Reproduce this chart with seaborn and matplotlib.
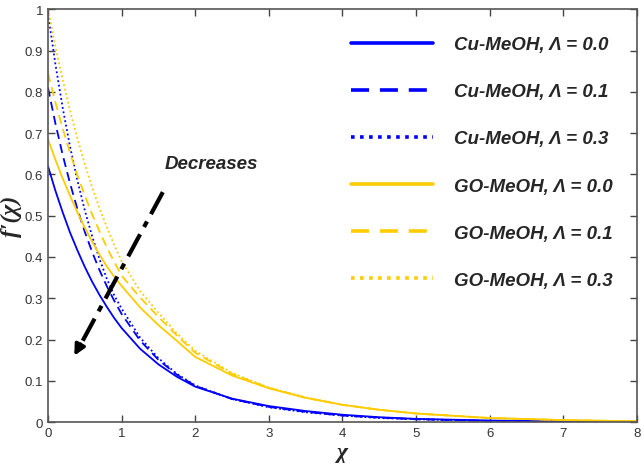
import matplotlib
matplotlib.use("Agg")
import matplotlib.pyplot as plt
import numpy as np
import pandas as pd
import seaborn as sns

# values
chi = [0, 0.1, 0.2, 0.3, 0.4, 0.5, 0.6, 0.7, 0.8, 0.9, 1.0,
       1.25, 1.5, 1.75, 2, 2.5, 3, 3.5, 4, 4.5, 5, 6, 7, 8]

cu_00 = [0.62, 0.561, 0.508, 0.459, 0.416, 0.376, 0.340, 0.308, 0.279, 0.252, 0.228,
         0.178, 0.140, 0.110, 0.086, 0.057, 0.039, 0.027, 0.018, 0.012, 0.008, 0.004, 0.002, 0.001]
cu_01 = [0.81, 0.724, 0.647, 0.578, 0.516, 0.461, 0.412, 0.368, 0.329, 0.294, 0.262,
         0.198, 0.151, 0.115, 0.088, 0.056, 0.037, 0.025, 0.016, 0.011, 0.007, 0.003, 0.0015, 0.0008]
cu_03 = [0.99, 0.868, 0.761, 0.667, 0.585, 0.513, 0.450, 0.395, 0.347, 0.307, 0.275,
         0.205, 0.155, 0.117, 0.089, 0.056, 0.036, 0.024, 0.016, 0.010, 0.007, 0.003, 0.0015, 0.0007]
go_00 = [0.685, 0.636, 0.590, 0.548, 0.508, 0.471, 0.437, 0.406, 0.377, 0.352, 0.330,
         0.278, 0.235, 0.197, 0.158, 0.113, 0.082, 0.059, 0.042, 0.030, 0.021, 0.010, 0.005, 0.002]
go_01 = [0.845, 0.775, 0.711, 0.652, 0.598, 0.549, 0.503, 0.462, 0.423, 0.388, 0.355,
         0.302, 0.255, 0.210, 0.168, 0.117, 0.083, 0.059, 0.042, 0.030, 0.021, 0.010, 0.005, 0.002]
go_03 = [1.0, 0.910, 0.829, 0.754, 0.687, 0.625, 0.569, 0.518, 0.472, 0.429, 0.390,
         0.318, 0.265, 0.215, 0.173, 0.119, 0.084, 0.060, 0.042, 0.030, 0.021, 0.010, 0.005, 0.002]

labels = [
    "Cu-MeOH, Λ = 0.0",
    "Cu-MeOH, Λ = 0.1",
    "Cu-MeOH, Λ = 0.3",
    "GO-MeOH, Λ = 0.0",
    "GO-MeOH, Λ = 0.1",
    "GO-MeOH, Λ = 0.3",
]
series = [cu_00, cu_01, cu_03, go_00, go_01, go_03]

BLUE = "#0000ff"
YELLOW = "#ffcc00"
colors = [BLUE, BLUE, BLUE, YELLOW, YELLOW, YELLOW]
dashes = ["-", (0, (5, 3)), (0, (1, 1.5)), "-", (0, (5, 3)), (0, (1, 1.5))]

sns.set_style("ticks")
plt.rcParams["font.family"] = ["Liberation Sans", "DejaVu Sans"]

fig = plt.figure(figsize=(6.44, 4.64), dpi=100)
ax = fig.add_axes([0.0745, 0.088, 0.9146, 0.89])

df = pd.DataFrame({"chi": chi})
for lab, vals in zip(labels, series):
    df[lab] = vals

for lab, col, ls in zip(labels, colors, dashes):
    sns.lineplot(data=df, x="chi", y=lab, ax=ax, color=col, linestyle=ls,
                 linewidth=1.3, label=lab)

# arrow "Decreases"
ax.plot([1.56, 0.45], [0.557, 0.19], color="black", linestyle=(0, (6, 2, 1.5, 2)),
        linewidth=3)
ax.annotate("", xy=(0.34, 0.155), xytext=(0.46, 0.195),
            arrowprops=dict(arrowstyle="-|>", color="black", lw=2.5,
                            mutation_scale=16))
ax.text(1.58, 0.627, "Decreases", fontsize=13.5, fontweight="bold", style="italic",
        va="center", ha="left")

leg = ax.legend(loc="upper left", bbox_to_anchor=(0.514, 0.935), frameon=False,
                borderpad=0, borderaxespad=0,
                handlelength=4.4, handletextpad=1.1, labelspacing=1.6,
                prop=dict(size=13.5, weight="bold", style="italic"))
for line in leg.get_lines():
    line.set_linewidth(2.6)

ax.set_xlim(0, 8)
ax.set_ylim(0, 1)
ax.set_xticks(range(0, 9))
ax.set_yticks(np.round(np.arange(0, 1.01, 0.1), 1))
ax.set_yticklabels(["0"] + [f"{v:.1f}" for v in np.arange(0.1, 0.95, 0.1)] + ["1"])
ax.tick_params(direction="in", top=True, right=True, labelsize=9.5, length=5,
               colors="#444444", labelcolor="#333333", width=1)
for sp in ax.spines.values():
    sp.set_color("#555555")
    sp.set_linewidth(1.2)

ax.set_xlabel("χ", fontsize=17, fontweight="bold", style="italic",
              family=["Liberation Serif", "DejaVu Serif"], labelpad=2)
ax.set_ylabel("f′(χ)", fontsize=17, fontweight="bold", style="italic",
              family=["Liberation Serif", "DejaVu Serif"], labelpad=2)

fig.savefig("out.png", dpi=100)
